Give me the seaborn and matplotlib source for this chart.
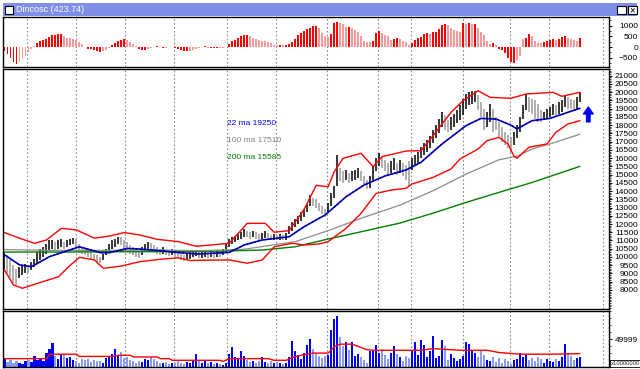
import matplotlib
matplotlib.use("Agg")
import matplotlib.pyplot as plt
from matplotlib.patches import Rectangle
from matplotlib.ticker import MultipleLocator
import numpy as np
import seaborn as sns

# ---- data (bar index = trading day) ----
highs = [10300, 10100, 9800, 9500, 9300, 9400, 9500, 9600, 9500, 9700,
         9900, 10300, 10500, 10600, 10800, 11000, 11000, 10900, 11000, 11100,
         10900, 11000, 11100, 11150, 11100, 10800, 10600, 10500, 10400, 10300,
         10200, 10100, 10000, 10200, 10500, 10800, 11000, 11100, 11200, 11200,
         11000, 10900, 10700, 10600, 10500, 10400, 10600, 10800, 10900, 10850,
         10700, 10600, 10500, 10600, 10500, 10450, 10500, 10400, 10300, 10200,
         10150, 10200, 10300, 10400, 10400, 10300, 10350, 10400, 10300, 10350,
         10300, 10400, 10350, 10500, 10800, 11100, 11200, 11300, 11400, 11500,
         11700, 11600, 11500, 11600, 11500, 11400, 11450, 11600, 11450, 11350,
         11400, 11350, 11400, 11350, 11450, 11900, 12100, 12300, 12500, 12700,
         12900, 13200, 13750, 13600, 13500, 13300, 13100, 12900, 13300, 13900,
         14300, 16200, 15400, 15200, 15300, 15100, 15200, 15300, 15400, 15200,
         14900, 14700, 14900, 15500, 16000, 16300, 16100, 15900, 15700, 15800,
         16000, 15700, 15900, 15700, 15600, 15800, 16000, 16200, 16400, 16700,
         16900, 17100, 17350, 17700, 18000, 18400, 18800, 18600, 18300, 18500,
         18700, 18900, 19200, 19600, 19900, 20000, 20050, 20100, 19800, 19400,
         19000, 18800, 19300, 19000, 18500, 18200, 17900, 17600, 17400, 17300,
         17600, 18000, 18500, 19200, 19900, 19700, 19600, 19500, 19300, 18900,
         18800, 19000, 19100, 19300, 19200, 19400, 19500, 19800, 19700, 19600,
         19500, 19700, 20000]
lows = [9300, 9000, 8700, 8400, 8300, 8700, 8900, 9000, 9000, 9200,
        9400, 9600, 9800, 10000, 10200, 10400, 10500, 10400, 10500, 10600,
        10500, 10600, 10700, 10800, 10600, 10300, 10200, 10100, 10000, 9900,
        9800, 9700, 9650, 9800, 10100, 10300, 10500, 10600, 10800, 10700,
        10500, 10400, 10200, 10100, 10000, 9950, 10100, 10300, 10500, 10400,
        10300, 10200, 10150, 10200, 10100, 10050, 10100, 10000, 9950, 9800,
        9750, 9800, 9900, 10000, 10050, 9950, 9950, 10000, 9950, 10000,
        9950, 10000, 10000, 10100, 10300, 10600, 10800, 10900, 11000, 11100,
        11200, 11200, 11100, 11200, 11100, 11050, 11100, 11150, 11050, 11000,
        11050, 11000, 11050, 11000, 11050, 11400, 11600, 11800, 12000, 12200,
        12400, 12700, 13100, 13100, 13000, 12800, 12600, 12450, 12700, 13100,
        13600, 14300, 14600, 14500, 14700, 14500, 14600, 14700, 14800, 14600,
        14400, 14100, 14200, 14700, 15200, 15500, 15400, 15200, 15000, 15100,
        15300, 15000, 15100, 14900, 14700, 14250, 15300, 15500, 15700, 16000,
        16200, 16400, 16600, 16900, 17200, 17500, 17900, 17700, 17600, 17700,
        17900, 18100, 18300, 18600, 19000, 19200, 19300, 19400, 18900, 18500,
        17700, 17900, 18200, 17600, 17700, 17300, 17000, 16800, 16600, 16400,
        16800, 17200, 17600, 18400, 18900, 18800, 18700, 18400, 18200, 18200,
        18300, 18400, 18500, 18600, 18600, 18700, 18800, 19100, 19000, 19000,
        18950, 19000, 19400]

osc = [-200, -330, -500, -680, -770, -700, -560, -400, -250, -100,
       60, 200, 300, 320, 400, 480, 550, 590, 600, 610,
       520, 450, 440, 400, 320, 220, 130, 20, -70, -90,
       -140, -200, -230, -180, -120, -60, 120, 200, 280, 330,
       380, 340, 230, 150, 40, -70, -130, -150, -90, -30,
       20, 30, 0, -30, -20, 0, 0, -60, -90, -130,
       -160, -190, -180, -130, -80, -30, 20, 40, -20, -30,
       -40, -50, -40, -30, 0, 150, 280, 350, 440, 520,
       560, 590, 520, 430, 380, 340, 310, 280, 250, 180,
       120, 100, 100, 90, 100, 150, 250, 400, 560, 650,
       740, 830, 900, 980, 1000, 920, 660, 520, 480, 620,
       1150, 1200, 1150, 1080, 950, 960, 900, 800, 720, 520,
       290, 250, 230, 310, 640, 780, 660, 560, 500, 350,
       400, 430, 380, 300, 230, 100, 200, 350, 420, 480,
       620, 640, 620, 690, 720, 860, 1050, 1080, 1050, 920,
       800, 740, 700, 1150, 1100, 1110, 1080, 1100, 900, 700,
       580, 300, 150, 180, 80, -80, -150, -300, -520, -720,
       -760, -600, -400, 380, 450, 600, 520, 300, 200, 180,
       230, 300, 330, 380, 330, 380, 480, 520, 450, 380,
       330, 300, 420]

volume_k = [14, 9, 12, 8, 11, 7, 6, 10, 13, 9,
            20, 12, 16, 11, 25, 33, 43, 20, 14, 24,
            22, 16, 18, 12, 10, 8, 15, 13, 14, 9,
            12, 10, 11, 8, 17, 19, 24, 33, 22, 27,
            16, 18, 12, 10, 8, 10, 9, 14, 12, 18,
            14, 10, 8, 7, 9, 6, 8, 7, 10, 8,
            6, 9, 7, 10, 23, 12, 8, 11, 7, 9,
            6, 8, 5, 4, 7, 24, 36, 18, 14, 29,
            20, 12, 9, 10, 8, 11, 18, 9, 7, 10,
            8, 9, 7, 6, 8, 18, 47, 28, 22, 15,
            25, 39, 51, 32, 26, 20, 16, 19, 22, 66,
            87, 92, 54, 38, 45, 30, 45, 20, 24, 18,
            12, 8, 28, 30, 40, 25, 33, 21, 14, 26,
            38, 24, 18, 11, 20, 16, 28, 45, 22, 48,
            40, 18, 28, 55, 16, 20, 48, 38, 12, 24,
            16, 10, 14, 20, 44, 42, 30, 26, 18, 28,
            22, 12, 10, 18, 9, 16, 8, 14, 10, 6,
            12, 15, 26, 18, 22, 12, 16, 10, 18, 14,
            8, 15, 11, 9, 14, 10, 18, 42, 25, 20,
            12, 16, 18]

vol_avg_days = [0, 14, 15, 24, 25, 36, 38, 42, 43, 51, 52, 55, 56, 72, 73, 75, 88, 90, 94, 96,
                99, 103, 106, 108, 110, 112, 116, 119, 121, 123, 139, 143, 152, 161, 165, 172, 183, 192]
vol_avg_k = [15, 15, 23, 23, 19, 19, 21, 21, 18, 18, 15, 15, 12, 12, 10, 15, 15, 12, 12, 17,
             21, 25, 25, 25, 36, 41, 41, 35, 31, 30, 30, 33, 30, 30, 26, 23, 23, 24]

ma22_days = [0, 5, 9, 15, 21, 25, 32, 35, 41, 45, 52, 59, 65, 75, 80, 86, 95, 100, 107,
             114, 120, 127, 134, 139, 146, 154, 159, 164, 169, 171, 176, 182, 188, 192]
ma22 = [10130, 9520, 9410, 10020, 10380, 10620, 10260, 10260, 10520, 10480, 10380, 10250,
        10180, 10280, 10730, 11030, 11230, 11840, 12550, 13660, 14370, 14920, 15280, 15750,
        16860, 17970, 18410, 18370, 18000, 17770, 18270, 18410, 18780, 19020]

ma100_days = [0, 15, 32, 49, 65, 80, 97, 108, 119, 132, 143, 154, 165, 171, 176, 182, 192]
ma100 = [10450, 10400, 10400, 10420, 10380, 10470, 10930, 11600, 12350, 13150, 14020,
         15030, 15900, 16110, 16550, 16860, 17450]

ma200_days = [0, 19, 39, 65, 86, 97, 108, 119, 132, 143, 154, 165, 176, 192]
ma200 = [10300, 10300, 10320, 10330, 10420, 10620, 11090, 11530, 12060, 12660, 13310,
         13920, 14520, 15500]

upper_days = [0, 5, 10, 14, 19, 24, 30, 35, 40, 45, 51, 58, 64, 75, 81, 87, 90, 95, 100,
              104, 108, 110, 113, 119, 123, 126, 134, 139, 143, 149, 153, 158, 162, 169,
              174, 183, 186, 192]
upper = [11480, 11140, 10830, 11030, 11740, 11640, 11140, 11270, 11480, 11340, 11070,
         10930, 10650, 10830, 12040, 12040, 11500, 11600, 12900, 14350, 14260, 15170,
         15990, 16290, 15480, 16090, 16430, 16450, 17360, 18780, 19480, 20090, 19690,
         19630, 19890, 19990, 19750, 19990]

lower_days = [0, 3, 6, 11, 18, 22, 25, 30, 33, 39, 45, 52, 58, 62, 65, 75, 81, 86, 90, 96,
              100, 105, 108, 114, 119, 124, 129, 134, 136, 143, 149, 152, 158, 161, 165,
              168, 170, 171, 175, 181, 184, 188, 192]
lower = [9210, 8300, 8100, 8400, 8800, 9510, 9980, 9820, 9310, 9450, 9710, 9860, 9950,
         9780, 9800, 9820, 9620, 9820, 10620, 10830, 10730, 10790, 10930, 11740, 12650,
         13860, 14060, 14170, 14430, 14830, 15340, 15950, 16550, 17060, 17260, 16860,
         16110, 15990, 16660, 16860, 17570, 18070, 18270]

month_starts = [7.6, 24, 40.3, 56.4, 74.3, 90.6, 107.6, 124.6, 135.7, 153.1, 168.7, 181.8, 199.8]
ma_labels = ["22 ma 19250", "100 ma 17510", "200 ma 15585"]
ma_label_prices = [18110, 17040, 16020]
title = "Dincosc (423.74)"

for name, arr in [("lows", lows), ("osc", osc), ("volume", volume_k)]:
    assert len(arr) == len(highs), (name, len(arr))
assert len(upper) == len(upper_days) and len(lower) == len(lower_days)

days = np.arange(len(highs))
mid = (np.array(highs) + np.array(lows)) / 2
down = np.r_[False, mid[1:] < mid[:-1]]
bar_colors = np.where(down, "#9a9a9a", "#000000")
vol_colors = np.where(down, "#8a9cf0", "#0000ff")
osc_arr = np.array(osc)
fading = np.r_[False, np.abs(osc_arr[1:]) < np.abs(osc_arr[:-1])]
osc_colors = np.where(fading, "#f49a9a", "#ff0000")

# ---- figure ----
sns.set_style("white")
plt.rcParams["font.family"] = ["Liberation Sans", "DejaVu Sans"]
W, H = 640, 369
fig = plt.figure(figsize=(W / 100, H / 100), dpi=100)
fig.patch.set_facecolor("white")


def panel(x0, y0, x1, y1):
    return fig.add_axes([x0 / W, 1 - y1 / H, (x1 - x0) / W, (y1 - y0) / H])


def fig_rect(x0, y0, x1, y1, **kw):
    fig.add_artist(Rectangle((x0 / W, 1 - y1 / H), (x1 - x0) / W, (y1 - y0) / H,
                             transform=fig.transFigure, **kw))


ax_osc = panel(3, 17, 609, 67)
ax = panel(3, 69, 609, 309)
ax_vol = panel(3, 311, 609, 367)

grid_kw = dict(color="#8c8c8c", linestyle=(0, (1.5, 2)), linewidth=0.8)
label_pad = 18.5
for a in (ax_osc, ax, ax_vol):
    a.set_facecolor("white")
    a.set_xlim(-0.5, 201.7)
    a.set_xticks(month_starts)
    a.tick_params(axis="x", length=0, labelbottom=False)
    a.grid(axis="x", **grid_kw)
    a.set_axisbelow(True)
    a.yaxis.tick_right()
    a.tick_params(axis="y", which="major", length=2.5, width=0.7, labelsize=6,
                  pad=label_pad, colors="black")
    a.tick_params(axis="y", which="minor", length=1.3, width=0.6)
    for s in a.spines.values():
        s.set_color("black")
        s.set_linewidth(1.0)

# oscillator
ax_osc.bar(days, osc, width=0.65, color=osc_colors, linewidth=0)
ax_osc.set_ylim(-934, 1414)
ax_osc.set_yticks([-500, 0, 500, 1000])
ax_osc.yaxis.set_minor_locator(MultipleLocator(250))

# price bars + averages + bands
ax.vlines(days, lows, highs, colors=bar_colors, linewidth=1.1)
sns.lineplot(x=ma200_days, y=ma200, ax=ax, color="#008000", linewidth=1.0)
sns.lineplot(x=ma100_days, y=ma100, ax=ax, color="#8c8c8c", linewidth=0.9)
sns.lineplot(x=upper_days, y=upper, ax=ax, color="#ff0000", linewidth=1.0)
sns.lineplot(x=lower_days, y=lower, ax=ax, color="#ff0000", linewidth=1.0)
sns.lineplot(x=ma22_days, y=ma22, ax=ax, color="#0000ff", linewidth=1.2)
ax.plot(ma22_days, ma22, color="black", linewidth=0.7, linestyle=(0, (2, 2)))
ax.set_ylim(6843, 21407)
ax.set_yticks(range(8000, 21001, 500))
ax.yaxis.set_minor_locator(MultipleLocator(100))
ax.set_xlabel("")
ax.set_ylabel("")

for txt, yv, col in zip(ma_labels, ma_label_prices, ["#0000ff", "#808080", "#008000"]):
    ax.text(74.2, yv, txt, color=col, fontsize=6, va="center", ha="left")

ax.annotate("", xy=(194.8, 19100), xytext=(194.8, 18200), annotation_clip=False,
            arrowprops=dict(facecolor="#0000ff", edgecolor="#0000ff", width=2.5,
                            headwidth=7, headlength=5))

# volume
volume = np.array(volume_k) * 1000
ax_vol.bar(days, volume, width=0.7, color=vol_colors, linewidth=0)
sns.lineplot(x=vol_avg_days, y=np.array(vol_avg_k) * 1000, ax=ax_vol,
             color="#ff0000", linewidth=1.0)
ax_vol.set_ylim(0, 100500)
ax_vol.set_yticks([49999])
ax_vol.set_yticklabels(["49999"])
ax_vol.yaxis.set_minor_locator(MultipleLocator(12500))
ax_vol.set_xlabel("")
ax_vol.set_ylabel("")

for a in (ax_osc, ax, ax_vol):
    for t in a.yaxis.get_major_ticks():
        t.label2.set_horizontalalignment("right")

# window header
fig_rect(3, 3, 637, 16, facecolor="#7f8ee6", edgecolor="none")
fig_rect(5, 6, 13, 14, facecolor="white", edgecolor="black", linewidth=0.8)
fig.text(16 / W, 1 - 9.8 / H, title, color="white", fontsize=6.5, va="center", ha="left")
fig_rect(617, 6, 626, 14, facecolor="white", edgecolor="black", linewidth=0.8)
fig_rect(628, 6, 637, 14, facecolor="white", edgecolor="black", linewidth=0.8)
fig.text(632.5 / W, 1 - 10 / H, "\u00d7", color="black", fontsize=7, va="center", ha="center")
fig.text(610.5 / W, 1 - 363.5 / H, "x10000000", fontsize=4.2, va="center", ha="left",
         bbox=dict(facecolor="white", edgecolor="black", linewidth=0.6, pad=0.6))

fig.savefig("out.png", dpi=100)
